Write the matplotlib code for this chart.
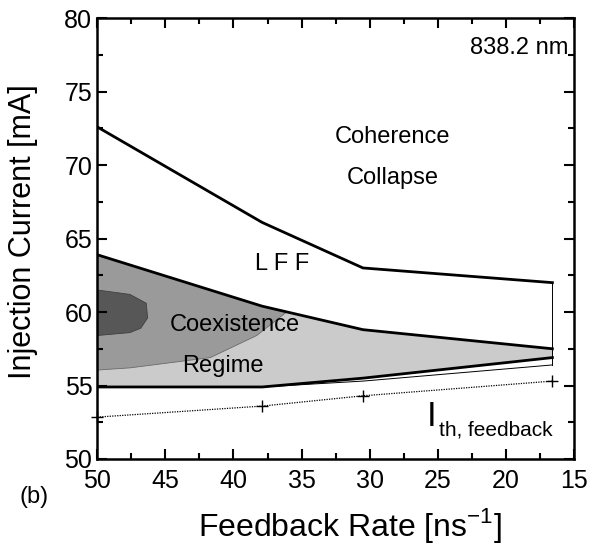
import matplotlib
matplotlib.use("Agg")
import matplotlib.pyplot as plt
from matplotlib.ticker import MultipleLocator

plt.rcParams['font.family'] = ['Liberation Sans', 'DejaVu Sans']

# feedback rates where the boundaries were measured [ns^-1]
rate = [50, 37.9, 30.5, 16.6]

# boundary lines [mA]
cc_upper = [72.6, 66.1, 63.0, 62.0]      # coherence collapse onset
coex_upper = [63.9, 60.4, 58.8, 57.5]    # top of coexistence regime
coex_lower = [54.9, 54.9, 55.5, 56.9]    # bottom of coexistence regime
thin_rate = [37.9, 30.5, 16.6]
thin_lower = [54.9, 55.3, 56.4]
ith = [52.85, 53.6, 54.3, 55.3]          # threshold with feedback

# contour patches in coexistence regime
mid_x = [50, 50, 37.9, 36.1, 38.3, 41.7, 47.6, 50]
mid_y = [56.05, 63.9, 60.4, 60.0, 58.4, 56.9, 56.2, 56.05]
dark_x = [50, 47.6, 46.4, 46.3, 46.8, 47.6, 50]
dark_y = [61.5, 61.2, 60.6, 59.6, 58.9, 58.6, 58.4]

fig = plt.figure(figsize=(6, 5.5), dpi=100)
ax = fig.add_axes([0.162, 0.1655, 0.795, 0.8015])

# light gray: whole coexistence region
ax.fill(rate + rate[::-1], coex_upper + coex_lower[::-1], color='#cbcbcb', lw=0)
ax.fill(mid_x, mid_y, facecolor='#9a9a9a', edgecolor='#6a6a6a', lw=0.6)
ax.fill(dark_x, dark_y, facecolor='#575757', edgecolor='#404040', lw=0.6)

ax.plot(rate, cc_upper, color='black', lw=2)
ax.plot(rate, coex_upper, color='black', lw=2)
ax.plot(rate, coex_lower, color='black', lw=2)
ax.plot(thin_rate, thin_lower, color='black', lw=0.7)
ax.plot([rate[-1], rate[-1]], [cc_upper[-1], thin_lower[-1]], color='black', lw=0.7)
ax.plot(rate, ith, color='black', lw=0.9, ls=(0, (1, 1)), marker='+',
        ms=8, mew=1, clip_on=False)

fs = 17
ax.text(15.4, 78.0, '838.2 nm', fontsize=fs, ha='right', va='center')
ax.text(28.3, 71.9, 'Coherence', fontsize=fs, ha='center', va='center')
ax.text(28.3, 69.1, 'Collapse', fontsize=fs, ha='center', va='center')
ax.text(36.4, 63.3, 'L F F', fontsize=fs, ha='center', va='center')
ax.text(39.9, 59.1, 'Coexistence', fontsize=fs, ha='center', va='center')
ax.text(40.8, 56.3, 'Regime', fontsize=fs, ha='center', va='center')
ax.text(25.8, 52.9, 'I', fontsize=25, ha='left', va='center')
ax.text(24.9, 52.0, 'th, feedback', fontsize=15, ha='left', va='center')

ax.set_xlim(50, 15)
ax.set_ylim(50, 80)
ax.xaxis.set_major_locator(MultipleLocator(5))
ax.xaxis.set_minor_locator(MultipleLocator(2.5))
ax.yaxis.set_major_locator(MultipleLocator(5))
ax.yaxis.set_minor_locator(MultipleLocator(2.5))
ax.tick_params(which='both', direction='in', top=True, right=True,
               width=1.5, labelsize=18)
ax.tick_params(axis='x', pad=7)
ax.tick_params(which='major', length=7)
ax.tick_params(which='minor', length=4)
for s in ax.spines.values():
    s.set_linewidth(1.8)

ax.set_ylabel('Injection Current [mA]', fontsize=22)
ax.yaxis.set_label_coords(-0.124, 0.515)
fig.text(0.583, 0.045, r'Feedback Rate [ns$^{\mathregular{-1}}$]', fontsize=23,
         ha='center', va='center')
fig.text(0.033, 0.096, '(b)', fontsize=17, ha='left', va='center')

fig.savefig('out.png', dpi=100)
